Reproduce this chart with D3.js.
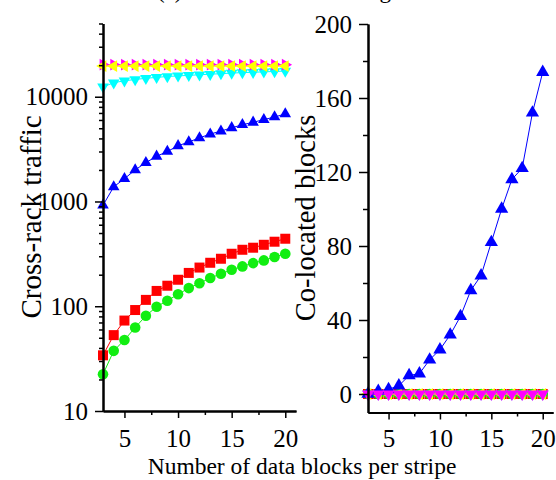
<!DOCTYPE html>
<html>
<head>
<meta charset="utf-8">
<script src="https://cdn.jsdelivr.net/npm/d3@7"></script>
<style>
  body { margin: 0; background: #fff; }
  svg { display: block; }
  svg text { fill: #000; }
</style>
</head>
<body>
<div id="chart"></div>
<script>
//-------------------------------------
// data
//-------------------------------------
var ks = [3, 4, 5, 6, 7, 8, 9, 10, 11, 12, 13, 14, 15, 16, 17, 18, 19, 20];

// left panel: cross-rack traffic (log)
var trafficRed     = [34, 53, 73, 92, 115, 140, 157, 179, 208, 234, 260, 284, 317, 346, 362, 386, 413, 441];
var trafficGreen   = [22.4, 37.5, 47.7, 62.6, 81, 99, 113, 130, 149, 166, 186, 204, 223, 240, 258, 274, 295, 317];
var trafficBlue    = [920, 1380, 1650, 2000, 2350, 2700, 3000, 3400, 3700, 4050, 4400, 4700, 5050, 5400, 5700, 6050, 6400, 6850];
var trafficCyan    = [12400, 13600, 14200, 14600, 15000, 15300, 15600, 15800, 16000, 16200, 16400, 16600, 16800, 17000, 17100, 17300, 17400, 17600];
var trafficMagenta = [20200, 20200, 20200, 20200, 20200, 20200, 20200, 20200, 20200, 20200, 20200, 20200, 20200, 20200, 20200, 20200, 20200, 20200];
var trafficYellow  = [19600, 19600, 19600, 19600, 19600, 19600, 19600, 19600, 19600, 19600, 19600, 19600, 19600, 19600, 19600, 19600, 19600, 19600];

// right panel: co-located blocks
var colocBlue    = [0, 1.5, 2.5, 4.5, 10, 11, 18.5, 24, 32, 42, 56, 64, 82, 100, 116, 122, 152, 174];
var colocRed     = [0, 0, 0, 0, 0, 0, 0, 0, 0, 0, 0, 0, 0, 0, 0, 0, 0, 0];
var colocGreen   = [0, 0, 0, 0, 0, 0, 0, 0, 0, 0, 0, 0, 0, 0, 0, 0, 0, 0];
var colocCyan    = [0, 0, 0, 0, 0, 0, 0, 0, 0, 0, 0, 0, 0, 0, 0, 0, 0, 0];
var colocYellow  = [0, 0, 0, 0, 0, 0, 0, 0, 0, 0, 0, 0, 0, 0, 0, 0, 0, 0];
var colocMagenta = [0, 0, 0, 0, 0, 0, 0, 0, 0, 0, 0, 0, 0, 0, 0, 0, 0, 0];

var xTicks = [5, 10, 15, 20];
var xMinor = [7.5, 12.5, 17.5];
var logTicks = [10, 100, 1000, 10000];
var logMinor = [20, 30, 40, 50, 60, 70, 80, 90,
                200, 300, 400, 500, 600, 700, 800, 900,
                2000, 3000, 4000, 5000, 6000, 7000, 8000, 9000,
                20000, 30000, 40000, 50000];
var linTicks = [0, 40, 80, 120, 160, 200];
var linMinor = [20, 60, 100, 140, 180];

//-------------------------------------
// field
//-------------------------------------
var width = 556;
var height = 480;
var serif = "'Liberation Serif', 'Times New Roman', serif";
var tickFont = 25;

var svg = d3.select("#chart")
	.append("svg")
	.attr("width", width)
	.attr("height", height)
	.attr("font-family", serif);

var xLeft = d3.scaleLinear().domain([3, 21]).range([103, 296]);
var yLeft = d3.scaleLog().domain([10, 50000]).range([411, 23.5]);
var xRight = d3.scaleLinear().domain([3, 21]).range([368, 553]);
var yRight = d3.scaleLinear().domain([-10, 200]).range([412.5, 24]);

var tri = d3.symbolTriangle;

function marker(type, size, rot) {
	var p = d3.symbol().type(type).size(size)();
	return { path: p, rot: rot || 0 };
}

function drawSeries(g, xs, ys, vals, color, m) {
	var line = d3.line()
		.x(function(d, i) { return xs(ks[i]); })
		.y(function(d) { return ys(d); });

	g.append("path")
		.datum(vals)
		.attr("d", line)
		.attr("fill", "none")
		.attr("stroke", color)
		.attr("stroke-width", 1);

	g.selectAll(null)
		.data(vals)
		.enter()
		.append("path")
		.attr("d", m.path)
		.attr("transform", function(d, i) {
			return "translate(" + xs(ks[i]) + "," + ys(d) + ") rotate(" + m.rot + ")";
		})
		.attr("fill", color);
}

function styleAxis(g) {
	g.attr("font-family", serif).attr("font-size", tickFont);
	g.select(".domain").attr("stroke", "#000").attr("stroke-width", 2);
	g.selectAll(".tick line").attr("stroke", "#000").attr("stroke-width", 1.5);
	g.selectAll(".tick text").attr("fill", "#000");
}

//-------------------------------------
// left panel
//-------------------------------------
var left = svg.append("g");

drawSeries(left, xLeft, yLeft, trafficRed, "#ff0000", marker(d3.symbolSquare, 100));
drawSeries(left, xLeft, yLeft, trafficGreen, "#11ee11", marker(d3.symbolCircle, 88));
drawSeries(left, xLeft, yLeft, trafficBlue, "#0000ff", marker(tri, 58));
drawSeries(left, xLeft, yLeft, trafficCyan, "#00ffff", marker(tri, 58, 180));
drawSeries(left, xLeft, yLeft, trafficMagenta, "#ff00ff", marker(tri, 60, 90));
drawSeries(left, xLeft, yLeft, trafficYellow, "#ffff00", marker(tri, 60, -90));

var lxMinor = left.append("g")
	.attr("transform", "translate(0,411)")
	.call(d3.axisBottom(xLeft).tickValues(xMinor).tickSize(4).tickSizeOuter(0).tickFormat(""));
styleAxis(lxMinor);
var lx = left.append("g")
	.attr("transform", "translate(0,411)")
	.call(d3.axisBottom(xLeft).tickValues(xTicks).tickSize(7).tickSizeOuter(0).tickPadding(11));
styleAxis(lx);

var lyMinor = left.append("g")
	.attr("transform", "translate(103,0)")
	.call(d3.axisLeft(yLeft).tickValues(logMinor).tickSize(4).tickSizeOuter(0).tickFormat(""));
styleAxis(lyMinor);
var ly = left.append("g")
	.attr("transform", "translate(103,0)")
	.call(d3.axisLeft(yLeft).tickValues(logTicks).tickSize(8).tickSizeOuter(0).tickPadding(7).tickFormat(d3.format("d")));
styleAxis(ly);

//-------------------------------------
// right panel
//-------------------------------------
var right = svg.append("g");

drawSeries(right, xRight, yRight, colocRed, "#ff0000", marker(d3.symbolSquare, 100));
drawSeries(right, xRight, yRight, colocGreen, "#11ee11", marker(d3.symbolCircle, 88));
drawSeries(right, xRight, yRight, colocCyan, "#00ffff", marker(tri, 58, 180));
drawSeries(right, xRight, yRight, colocYellow, "#ffff00", marker(tri, 60, -90));
drawSeries(right, xRight, yRight, colocBlue, "#0000ff", marker(tri, 76));
drawSeries(right, xRight, yRight, colocMagenta, "#ff00ff", marker(tri, 62, 180));

var rxMinor = right.append("g")
	.attr("transform", "translate(0,412.5)")
	.call(d3.axisBottom(xRight).tickValues(xMinor).tickSize(4).tickSizeOuter(0).tickFormat(""));
styleAxis(rxMinor);
var rx = right.append("g")
	.attr("transform", "translate(0,412.5)")
	.call(d3.axisBottom(xRight).tickValues(xTicks).tickSize(7).tickSizeOuter(0).tickPadding(10));
styleAxis(rx);

var ryMinor = right.append("g")
	.attr("transform", "translate(368,0)")
	.call(d3.axisLeft(yRight).tickValues(linMinor).tickSize(5).tickSizeOuter(0).tickFormat(""));
styleAxis(ryMinor);
var ry = right.append("g")
	.attr("transform", "translate(368,0)")
	.call(d3.axisLeft(yRight).tickValues(linTicks).tickSize(9).tickSizeOuter(0).tickPadding(7));
styleAxis(ry);

//-------------------------------------
// titles
//-------------------------------------
svg.append("text")
	.attr("x", 157)
	.attr("y", -2)
	.attr("font-size", 23)
	.text("(a) Traffic and colocating");

svg.append("text")
	.attr("transform", "translate(41,217) rotate(-90)")
	.attr("text-anchor", "middle")
	.attr("font-size", 29)
	.text("Cross-rack traffic");

svg.append("text")
	.attr("transform", "translate(315,218) rotate(-90)")
	.attr("text-anchor", "middle")
	.attr("font-size", 28.5)
	.text("Co-located blocks");

svg.append("text")
	.attr("x", 302)
	.attr("y", 474)
	.attr("text-anchor", "middle")
	.attr("font-size", 23.5)
	.text("Number of data blocks per stripe");
</script>
</body>
</html>
